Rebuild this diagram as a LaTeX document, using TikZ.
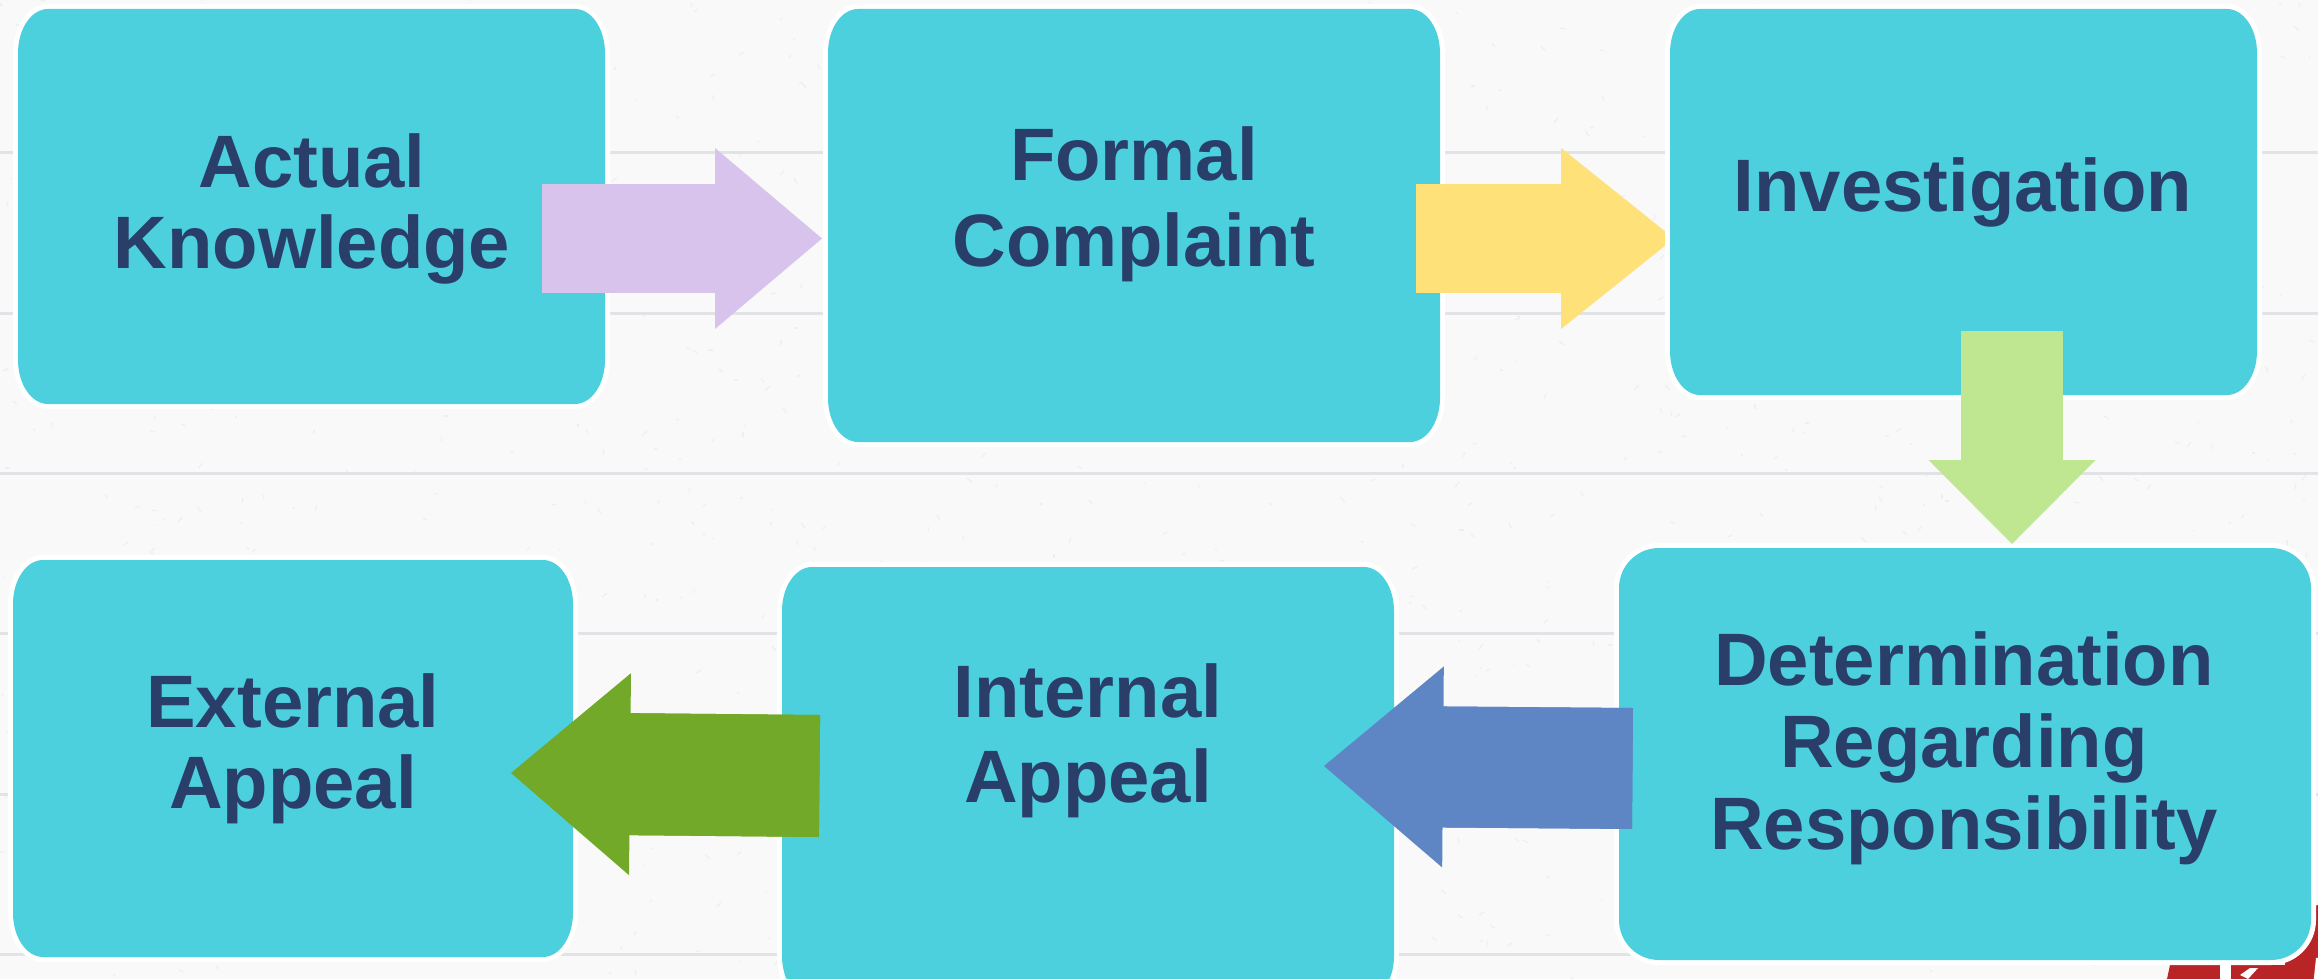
\documentclass[tikz,border=0pt]{standalone}
\usepackage{fontspec}
\setmainfont{Liberation Sans}
\usetikzlibrary{arrows.meta,calc}
\definecolor{paper}{HTML}{F9F9F9}
\definecolor{rule}{HTML}{E1E3E7}
\definecolor{speck}{HTML}{EFEFEF}
\definecolor{boxcol}{HTML}{4CD0DE}
\definecolor{ink}{HTML}{293F6A}
\definecolor{logored}{HTML}{B92426}
\definecolor{purplearrow}{HTML}{D8C3EC}
\definecolor{yellowarrow}{HTML}{FFE17A}
\definecolor{greenarrow}{HTML}{BFE690}
\definecolor{bluearrow}{HTML}{5F86C4}
\definecolor{olivearrow}{HTML}{72A929}
\tikzset{
  x=1pt,y=-1pt,
  halo/.style={fill=boxcol,preaction={draw=white,line width=10pt}},
  boxtext/.style={font=\fontsize{74.3}{86}\selectfont\bfseries,text=ink,align=center,inner sep=0pt},
  ruleline/.style={draw=rule,line width=3pt},
  purplelink/.style={draw=purplearrow,line width=109pt,-{Triangle[length=107pt,width=181pt,line width=0pt,fill=purplearrow]}},
  yellowlink/.style={draw=yellowarrow,line width=109pt,-{Triangle[length=113pt,width=181pt,line width=0pt,fill=yellowarrow]}},
  greenlink/.style={draw=greenarrow,line width=102pt,-{Triangle[length=84pt,width=167pt,line width=0pt,fill=greenarrow]}},
  bluelink/.style={draw=bluearrow,line width=121pt,-{Triangle[length=119pt,width=201pt,line width=0pt,fill=bluearrow]}},
  olivelink/.style={draw=olivearrow,line width=122pt,-{Triangle[length=119pt,width=202pt,line width=0pt,fill=olivearrow]}},
}
% x1 y1 x2 y2 rx ry
\newcommand{\ebox}[6]{%
  \path[halo] (#1+#5,#2) -- (#3-#5,#2)
    arc[start angle=90,end angle=0,x radius=#5,y radius=-#6]
    -- (#3,#4-#6)
    arc[start angle=0,end angle=-90,x radius=#5,y radius=-#6]
    -- (#1+#5,#4)
    arc[start angle=-90,end angle=-180,x radius=#5,y radius=-#6]
    -- (#1,#2+#6)
    arc[start angle=180,end angle=90,x radius=#5,y radius=-#6]
    -- cycle;}
\begin{document}
\begin{tikzpicture}
\useasboundingbox (0,0) rectangle (2318,979);
\clip (0,0) rectangle (2318,979);
\fill[paper] (0,0) rectangle (2318,979);
% paper texture
\pgfmathsetseed{7}
\foreach \i in {1,...,1100}{
  \pgfmathsetmacro{\px}{random(0,2318)}
  \pgfmathsetmacro{\py}{random(0,979)}
  \pgfmathsetmacro{\dx}{random(-5,5)}
  \pgfmathsetmacro{\dy}{random(-5,5)}
  \draw[speck,line width=1.2pt] (\px,\py) -- ++(\dx,\dy);
}
% ruled lines
\foreach \ly in {153,313,473,633,794,954}{\draw[ruleline] (0,\ly) -- (2318,\ly);}
% logo
\fill[logored] (2170,965) -- (2318,965) -- (2318,979) -- (2167,979) -- cycle;
\fill[logored] (2285,915) -- (2318,905) -- (2318,979) -- (2285,979) -- cycle;
\fill[white] (2220,965) rectangle (2231,979);
\fill[white] (2240,975) -- (2250,968) -- (2258,968) -- (2248,979) -- cycle;
\draw[white,line width=4pt] (2289,982) arc[start angle=180,end angle=90,radius=24] -- (2318,958);
\fill[white] (2296,982) arc[start angle=180,end angle=90,radius=17] -- (2318,982) -- cycle;
% yellow arrow runs under the next box's halo
\coordinate (a2s) at (1416,238.5); \coordinate (a2e) at (1674,238.5);
% boxes
\ebox{18}{9}{605}{404}{30}{44}
\ebox{828}{9}{1440}{442}{30}{44}
\draw[yellowlink] (a2s) -- (a2e);
\ebox{1670}{9}{2257}{395}{30}{44}
\ebox{1619}{548}{2311}{960}{40}{40}
\ebox{782}{567}{1394}{1000}{30}{44}
\ebox{13}{560}{573}{957}{30}{44}
% texts
\node[boxtext] (actual) at (312,209) {Actual\\[-5pt]Knowledge};
\node[boxtext] (formal) at (1134,204.5) {Formal\\Complaint};
\node[boxtext] (invest) at (1963,192) {Investigation};
\node[boxtext] (determ) at (1964,748) {Determination\\[-4pt]Regarding\\[-4pt]Responsibility};
\node[boxtext] (internal) at (1088,741) {Internal\\[-1pt]Appeal};
\node[boxtext] (external) at (293,749) {External\\[-5pt]Appeal};
% arrow ends
\coordinate (a1s) at (542,238.5);  \coordinate (a1e) at (822,238.5);
\coordinate (a3s) at (2012,331);   \coordinate (a3e) at (2012,544);
\coordinate (a4s) at (1632.5,768.5); \coordinate (a4e) at (1324,766);
\coordinate (a5s) at (819.5,776);  \coordinate (a5e) at (511,773);
\draw[purplelink] (a1s) -- (a1e);
\draw[greenlink] (a3s) -- (a3e);
\draw[bluelink] (a4s) -- (a4e);
\draw[bluearrow,line width=121pt] (a4s) -- ($(a4s)!193pt!(a4e)$);
\draw[olivelink] (a5s) -- (a5e);
\draw[olivearrow,line width=122pt] (a5s) -- ($(a5s)!193pt!(a5e)$);
\end{tikzpicture}
\end{document}
